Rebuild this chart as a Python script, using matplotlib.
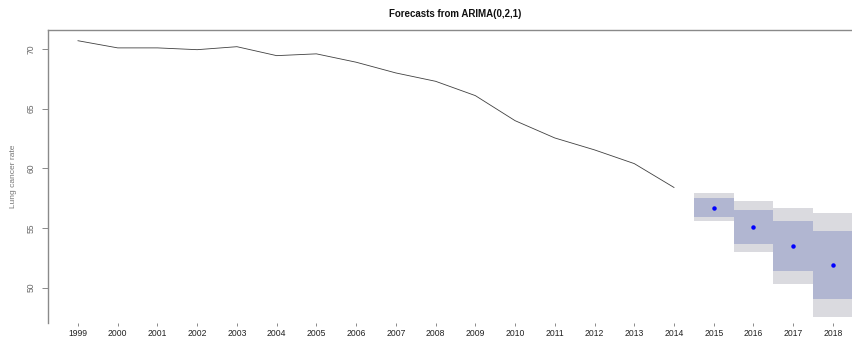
import matplotlib.pyplot as plt
import numpy as np

plt.rcParams["font.family"] = ["Liberation Sans", "DejaVu Sans"]

# observed series
years = np.arange(1999, 2015)
rate = [70.7, 70.1, 70.1, 69.95, 70.2, 69.45, 69.6, 68.9, 68.0, 67.3,
        66.1, 64.0, 62.55, 61.55, 60.4, 58.4]

# ARIMA(0,2,1) point forecasts and prediction intervals
fc_years = np.arange(2015, 2019)
fc_mean = [56.7, 55.1, 53.5, 51.9]
lo80 = [55.95, 53.7, 51.4, 49.05]
hi80 = [57.5, 56.5, 55.6, 54.75]
lo95 = [55.55, 52.95, 50.3, 47.5]
hi95 = [57.9, 57.3, 56.7, 56.3]

fig = plt.figure(figsize=(8.52, 3.42), dpi=100)
ax = fig.add_axes([0.0563, 0.0556, 0.9437, 0.8567])

lo95 = np.array(lo95); hi95 = np.array(hi95)
lo80 = np.array(lo80); hi80 = np.array(hi80)
ax.bar(fc_years, hi95 - lo95, bottom=lo95, width=1.0, color="#dadadf", linewidth=0)
ax.bar(fc_years, hi80 - lo80, bottom=lo80, width=1.0, color="#b1b6d1", linewidth=0)
ax.plot(years, rate, color="#404040", linewidth=0.6)
ax.plot(fc_years, fc_mean, "o", color="#0000ff", markersize=2.2)

ax.set_xlim(1998.245, 2018.48)
ax.set_ylim(47.04, 71.6)
ax.set_xticks(np.arange(1999, 2019))
ax.set_yticks([50, 55, 60, 65, 70])

for s in ["right", "bottom"]:
    ax.spines[s].set_visible(False)
for s in ["left", "top"]:
    ax.spines[s].set_color("#8a8a8a")
    ax.spines[s].set_linewidth(1.0)

ax.tick_params(axis="x", length=2.5, width=0.6, color="#777777", pad=1.5,
               labelsize=6.2, labelcolor="#222222", direction="out")
ax.tick_params(axis="y", length=4, width=0.6, color="#777777", pad=5,
               labelsize=6.2, labelcolor="#666666", labelrotation=90)
for t in ax.get_yticklabels():
    t.set_verticalalignment("center")

ax.set_ylabel("Lung cancer rate", fontsize=6, color="#777777", labelpad=7)
ax.set_title("Forecasts from ARIMA(0,2,1)", fontsize=7, fontweight="bold",
             color="#111111", pad=9, x=0.507)

fig.savefig("out.png", dpi=100)
